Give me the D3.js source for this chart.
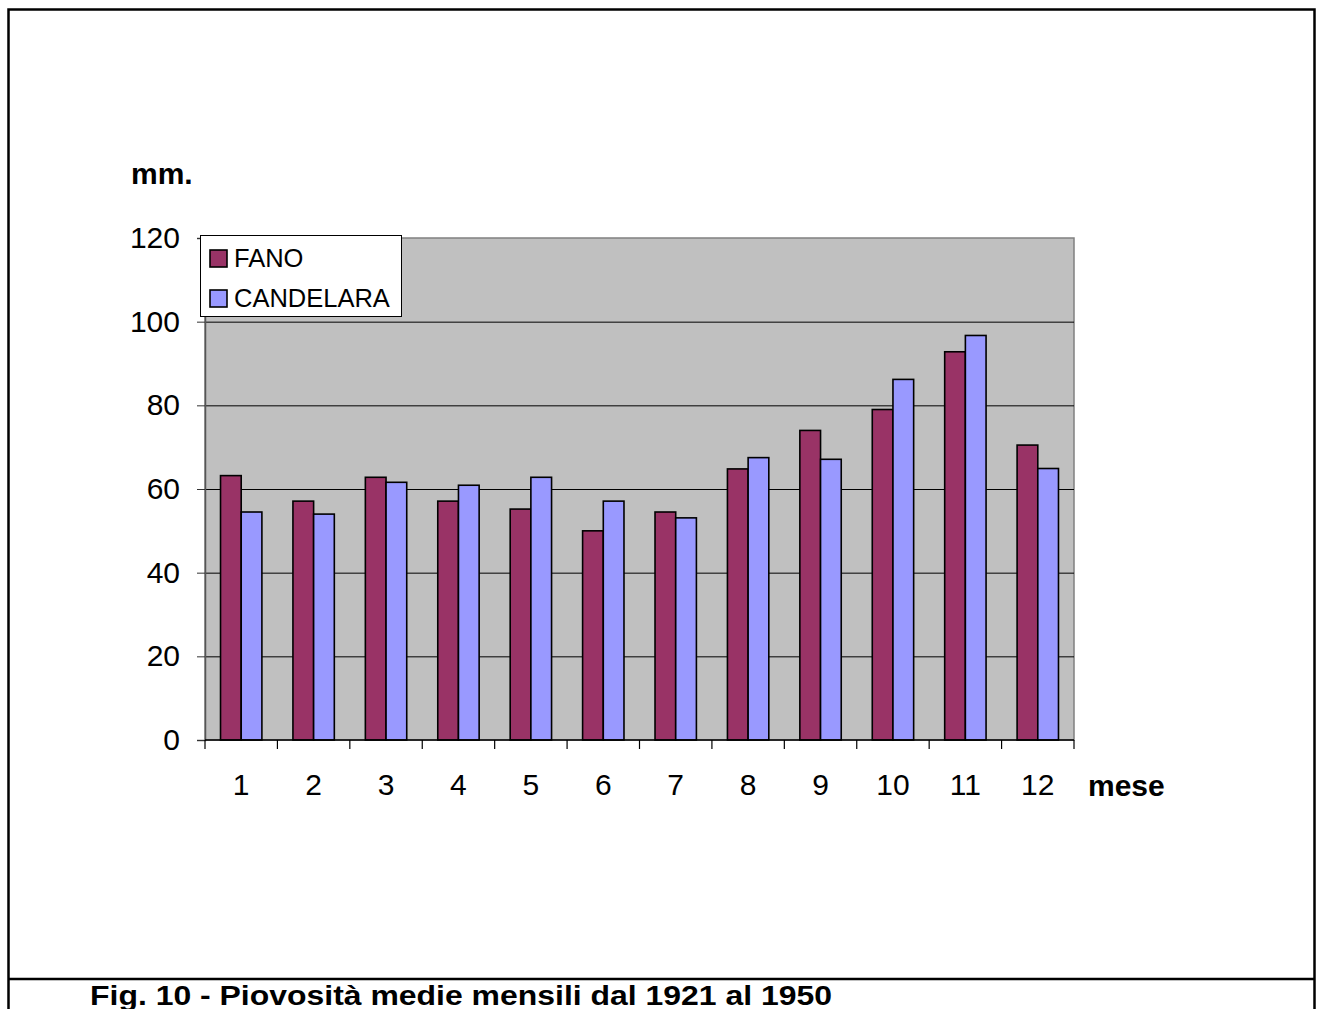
<!DOCTYPE html>
<html>
<head>
<meta charset="utf-8">
<script src="https://cdn.jsdelivr.net/npm/d3@7"></script>
<style>
  html, body { margin: 0; padding: 0; background: #fff; }
  svg { display: block; font-family: "Liberation Sans", Arial, sans-serif; }
</style>
</head>
<body>
<svg id="chart" width="1318" height="1009"></svg>
<script>
// Average monthly rainfall (mm), 1921-1950
const months = ["1", "2", "3", "4", "5", "6", "7", "8", "9", "10", "11", "12"];
const seriesNames = ["FANO", "CANDELARA"];
const fano = [63.2, 57.1, 62.8, 57.1, 55.2, 50.0, 54.5, 64.8, 74.0, 79.0, 92.8, 70.5];
const candelara = [54.5, 54.0, 61.6, 60.9, 62.8, 57.1, 53.1, 67.5, 67.1, 86.2, 96.7, 64.9];
const yTicks = [0, 20, 40, 60, 80, 100, 120];
const seriesColors = ["#993366", "#9999FF"];

const svg = d3.select("#chart");

// outer frame with separator above the caption
svg.append("rect")
  .attr("x", 8.5).attr("y", 9.5).attr("width", 1306).attr("height", 1020)
  .attr("fill", "none").attr("stroke", "#000").attr("stroke-width", 2.5);
svg.append("line")
  .attr("x1", 8).attr("x2", 1315).attr("y1", 979).attr("y2", 979)
  .attr("stroke", "#000").attr("stroke-width", 2.5);

const plot = { left: 205, right: 1074, top: 238, bottom: 740 };

const x = d3.scaleBand().domain(months).range([plot.left, plot.right]).padding(0);
const xs = d3.scaleBand().domain(seriesNames).range([0, x.bandwidth()])
  .paddingInner(0).paddingOuter(0.75);
const y = d3.scaleLinear().domain([0, 120]).range([plot.bottom, plot.top]);

// plot background
svg.append("rect")
  .attr("x", plot.left).attr("y", plot.top)
  .attr("width", plot.right - plot.left).attr("height", plot.bottom - plot.top)
  .attr("fill", "#C0C0C0").attr("stroke", "#808080").attr("stroke-width", 1.5);

// gridlines
svg.append("g").selectAll("line")
  .data(yTicks.filter(d => d > 0 && d < 120))
  .join("line")
  .attr("x1", plot.left).attr("x2", plot.right)
  .attr("y1", d => y(d) + 0.5).attr("y2", d => y(d) + 0.5)
  .attr("stroke", "#000").attr("stroke-width", 1);

// bars
const rows = months.map((m, i) => ({ month: m, values: [fano[i], candelara[i]] }));
const groups = svg.append("g").selectAll("g")
  .data(rows).join("g")
  .attr("transform", d => `translate(${x(d.month)},0)`);
groups.selectAll("rect")
  .data(d => d.values.map((v, j) => ({ name: seriesNames[j], value: v, color: seriesColors[j] })))
  .join("rect")
  .attr("x", d => xs(d.name))
  .attr("width", xs.bandwidth())
  .attr("y", d => y(d.value))
  .attr("height", d => y(0) - y(d.value))
  .attr("fill", d => d.color)
  .attr("stroke", "#000").attr("stroke-width", 1.6);

// y axis
const yAxis = svg.append("g")
  .attr("transform", `translate(${plot.left},0)`)
  .call(d3.axisLeft(y).tickValues(yTicks).tickSize(8).tickPadding(17));
yAxis.select(".domain").attr("stroke", "#555").attr("stroke-width", 1.5);
yAxis.selectAll(".tick line").attr("stroke", "#333");
yAxis.selectAll(".tick text")
  .attr("font-size", 30).attr("fill", "#000")
  .attr("font-family", "'Liberation Sans', Arial, sans-serif");

// x axis: ticks on category boundaries, labels centred
const xAxisG = svg.append("g");
xAxisG.append("line")
  .attr("x1", plot.left).attr("x2", plot.right)
  .attr("y1", plot.bottom).attr("y2", plot.bottom)
  .attr("stroke", "#000").attr("stroke-width", 1.5);
const boundaries = months.map(m => x(m)).concat([x(months[months.length - 1]) + x.bandwidth()]);
xAxisG.selectAll("line.tk")
  .data(boundaries).join("line").attr("class", "tk")
  .attr("x1", d => d).attr("x2", d => d)
  .attr("y1", plot.bottom).attr("y2", plot.bottom + 9)
  .attr("stroke", "#000").attr("stroke-width", 1.2);
xAxisG.selectAll("text")
  .data(months).join("text")
  .attr("x", d => x(d) + x.bandwidth() / 2)
  .attr("y", 795)
  .attr("text-anchor", "middle")
  .attr("font-size", 30)
  .text(d => d);

// axis titles
svg.append("text").attr("x", 131).attr("y", 184)
  .attr("font-size", 30).attr("font-weight", "bold").text("mm.");
svg.append("text").attr("x", 1088).attr("y", 796)
  .attr("font-size", 30).attr("font-weight", "bold").text("mese");

// legend
const legend = svg.append("g");
legend.append("rect")
  .attr("x", 200.5).attr("y", 235.5).attr("width", 201).attr("height", 81)
  .attr("fill", "#fff").attr("stroke", "#000").attr("stroke-width", 1);
seriesNames.forEach((name, i) => {
  legend.append("rect")
    .attr("x", 210).attr("y", 250 + i * 40).attr("width", 17).attr("height", 17)
    .attr("fill", seriesColors[i]).attr("stroke", "#000").attr("stroke-width", 1.6);
  legend.append("text")
    .attr("x", 234).attr("y", 267 + i * 40)
    .attr("font-size", 25.5).text(name);
});

// caption, partly below the bottom edge
svg.append("text").attr("x", 90).attr("y", 1005)
  .attr("font-size", 27).attr("font-weight", "bold")
  .attr("textLength", 742).attr("lengthAdjust", "spacingAndGlyphs")
  .text("Fig. 10 - Piovosità medie mensili dal 1921 al 1950");
</script>
</body>
</html>
